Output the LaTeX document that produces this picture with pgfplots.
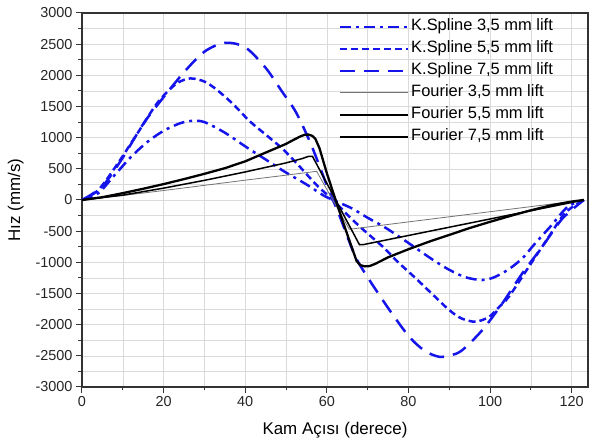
\documentclass[border=0pt]{standalone}
\usepackage{pgfplots}
\pgfplotsset{compat=1.18}
\usepackage{fontspec}
\setmainfont{Liberation Sans}
\definecolor{ksblue}{RGB}{20,20,235}
\definecolor{gridgray}{RGB}{218,218,218}
\begin{document}
\begin{tikzpicture}
\begin{axis}[
  scale only axis,
  width=506bp, height=374bp,
  xmin=0, xmax=124, ymin=-3000, ymax=3000,
  xtick={0,20,...,120}, minor x tick num=1,
  ytick={-3000,-2500,...,3000}, minor y tick num=1,
  grid=both,
  major grid style={gridgray, line width=0.6bp},
  minor grid style={gridgray, line width=0.6bp},
  tick align=outside, tick pos=left,
  major tick length=6bp, minor tick length=3.5bp,
  every tick/.style={black!80, line width=1bp},
  axis line style={black!80, line width=1.3bp},
  /pgf/number format/assume math mode=true,
  /pgf/number format/1000 sep={},
  tick label style={font=\fontsize{14.5}{16}\selectfont, black!85},
  label style={font=\fontsize{17}{19}\selectfont},
  xlabel={Kam Açısı (derece)},
  ylabel={Hız (mm/s)},
  xlabel style={yshift=-9bp},
  ylabel style={yshift=5bp},
  legend cell align=left,
  legend style={at={(rel axis cs:0.508,0.985)}, anchor=north west, draw=none, fill=none,
    inner sep=0pt, row sep=6bp,
    nodes={font=\fontsize{16.5}{18}\selectfont, text height=12bp, text depth=4bp, inner xsep=1.5bp, inner ysep=0bp}},
  legend image code/.code={\draw[#1] (0bp,0bp) -- (68bp,0bp);},
]
\addplot[ksblue, line width=2.5bp, dash pattern=on 11bp off 5bp on 3bp off 5bp, smooth] coordinates {
(0,0) (4,110) (8,400) (12,690) (16,930) (20,1110) (24,1230) (27,1270) (30,1250) (35,1080) (40,860) (45,650) (50,440) (55,250) (59,80) (61.5,0)
(66,-130) (70,-285) (74,-430) (78,-600) (82,-780) (86,-960) (90,-1120) (94,-1240) (98,-1284) (101,-1240) (104.6,-1110) (108,-930) (111,-700) (115,-410) (119,-110) (123,0)};
\addlegendentry{K.Spline 3,5 mm lift}
\addplot[ksblue, line width=2.5bp, dash pattern=on 7bp off 4bp, smooth] coordinates {
(0,0) (4,160) (8.5,560) (13.5,1060) (18.5,1560) (23,1860) (26.5,1950) (30,1900) (33,1770) (37,1540) (41,1270) (45,1050) (49,830) (53,560) (57.5,240) (61.5,0)
(65.5,-268) (69.5,-510) (73.7,-749) (77.5,-1000) (81.8,-1257) (86,-1520) (90,-1766) (93,-1900) (96.5,-1953) (99.8,-1873) (102,-1730) (104.6,-1552) (109.5,-1071) (114.4,-589) (118.5,-200) (123,0)};
\addlegendentry{K.Spline 5,5 mm lift}
\addplot[ksblue, line width=2.5bp, dash pattern=on 15bp off 9bp, smooth] coordinates {
(0,0) (5,220) (10,680) (15,1220) (20,1650) (25,2050) (30,2380) (35,2520) (40,2450) (45,2120) (48.8,1760) (52.5,1400) (56.2,880) (59.8,268) (61.5,0)
(63.2,-268) (66.8,-880) (69.6,-1200) (75.3,-1760) (80.2,-2194) (84,-2420) (87.5,-2515) (90.5,-2490) (93.2,-2408) (98.1,-2087) (103,-1659) (107.9,-1177) (112.8,-749) (117.7,-300) (123,0)};
\addlegendentry{K.Spline 7,5 mm lift}
\addplot[black!55, line width=0.8bp] coordinates {
(0,0) (10,72) (20,152) (30,235) (40,318) (50,398) (57.5,460) (65.5,-470) (123,0)};
\addlegendentry{Fourier 3,5 mm lift}
\addplot[black, line width=1.5bp] coordinates {
(0,0) (10,78) (20,190) (30,315) (40,450) (50,595) (54,665) (55.5,700) (56.5,698) (68,-718) (69,-715) (123,0)};
\addlegendentry{Fourier 5,5 mm lift}
\addplot[black, line width=2.3bp, line join=round] coordinates {
(0,0) (5,45) (10,110) (15,180) (20,255) (25,335) (30,420) (35,510) (40,620) (45,760) (50,900) (52,970) (53.5,1020) (54.5,1045) (55.5,1050) (56.4,1030) (57.2,980) (58.2,830) (60,430) (62,30) (64,-360) (66,-740) (67.3,-980) (68.2,-1045) (69.3,-1065) (70.5,-1060) (72,-1020) (75,-920) (80,-790) (85,-670) (90,-560) (95,-450) (100,-350) (105,-255) (110,-165) (115,-85) (120,-25) (123,0)};
\addlegendentry{Fourier 7,5 mm lift}
\coordinate (ll) at (rel axis cs:0,0);
\coordinate (ur) at (rel axis cs:1,1);
\end{axis}
\pgfresetboundingbox
\path ([shift={(-82bp,-54bp)}]ll) rectangle ([shift={(7bp,13bp)}]ur);
\end{tikzpicture}
\end{document}
